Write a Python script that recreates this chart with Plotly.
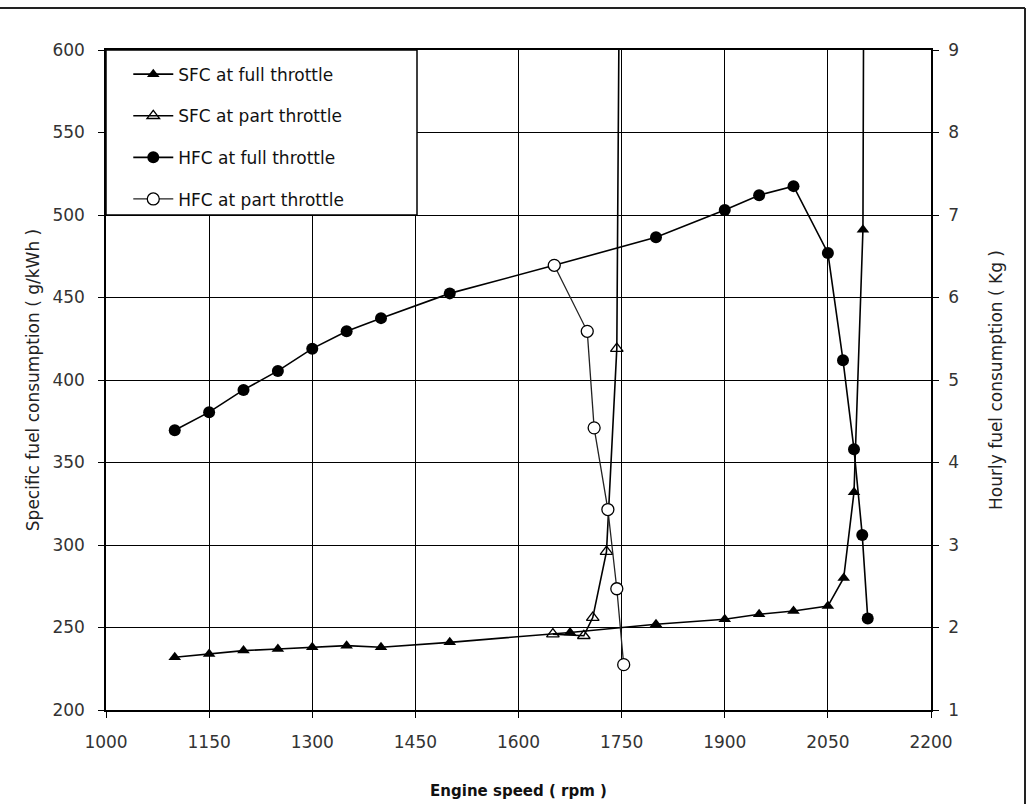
import plotly.graph_objects as go

# ---- data ----
speed_sfc_full = [1100, 1150, 1200, 1250, 1300, 1350, 1400, 1500, 1675, 1800, 1900, 1950, 2000, 2050, 2073, 2088, 2101, 2104]
sfc_full = [232, 234, 236, 237, 238, 239, 238, 241, 247, 252, 255, 258, 260, 263, 280, 332, 491, 900]

speed_sfc_part = [1650, 1695, 1708, 1728, 1743, 1750]
sfc_part = [246, 245, 256, 296, 419, 850]

speed_hfc_full = [1100, 1150, 1200, 1250, 1300, 1350, 1400, 1500, 1652, 1800, 1900, 1950, 2000, 2050, 2072, 2088, 2100, 2108]
hfc_full = [4.39, 4.61, 4.88, 5.11, 5.38, 5.59, 5.75, 6.05, 6.39, 6.73, 7.06, 7.24, 7.35, 6.54, 5.24, 4.16, 3.12, 2.11]

speed_hfc_part = [1652, 1700, 1710, 1730, 1743, 1753]
hfc_part = [6.39, 5.59, 4.42, 3.43, 2.47, 1.55]

x_ticks = [1000, 1150, 1300, 1450, 1600, 1750, 1900, 2050, 2200]

FONT = "DejaVu Sans, Liberation Sans, sans-serif"

fig = go.Figure()
fig.add_trace(go.Scatter(
    x=speed_sfc_full, y=sfc_full, name="SFC at full throttle", mode="lines+markers",
    line=dict(color="black", width=1.6),
    marker=dict(symbol="triangle-up", size=11, color="black"),
    legendgroup="a"))
fig.add_trace(go.Scatter(
    x=speed_sfc_part, y=sfc_part, name="SFC at part throttle", mode="lines+markers",
    line=dict(color="black", width=1.6),
    marker=dict(symbol="triangle-up-open", size=11, color="black", line=dict(width=1.3)),
    legendgroup="b"))
fig.add_trace(go.Scatter(
    x=speed_hfc_full, y=hfc_full, name="HFC at full throttle", mode="lines+markers", yaxis="y2",
    line=dict(color="black", width=1.6),
    marker=dict(symbol="circle", size=12, color="black"),
    legendgroup="c"))
fig.add_trace(go.Scatter(
    x=speed_hfc_part, y=hfc_part, name="HFC at part throttle", mode="lines+markers", yaxis="y2",
    line=dict(color="#222", width=1.3),
    marker=dict(symbol="circle", size=12, color="white", line=dict(color="black", width=1.3)),
    legendgroup="d"))

# legend box (white, bordered) covering the grid behind the legend
shapes = [
    dict(type="rect", xref="paper", yref="paper", x0=0, x1=(417 - 106) / 825, y0=(710 - 215) / 660, y1=1,
         fillcolor="white", line=dict(color="black", width=1.5), layer="above"),
    # outer frame of the scanned figure
    dict(type="line", xref="paper", yref="paper", x0=-0.13, x1=(1025 - 106) / 825,
         y0=1 + 42 / 660, y1=1 + 42 / 660, line=dict(color="#222", width=2)),
    dict(type="line", xref="paper", yref="paper", x0=(1025 - 106) / 825, x1=(1025 - 106) / 825,
         y0=1 + 42 / 660, y1=-0.2, line=dict(color="#222", width=2)),
]

fig.update_layout(
    width=1030, height=804,
    margin=dict(l=106, r=99, t=50, b=94, autoexpand=False),
    paper_bgcolor="white", plot_bgcolor="white",
    font=dict(family=FONT, color="#222", size=16),
    showlegend=True,
    legend=dict(x=0.027, y=0.99, xanchor="left", yanchor="top",
                bgcolor="rgba(0,0,0,0)", borderwidth=0,
                font=dict(family=FONT, size=17, color="#111"),
                tracegroupgap=16.5, itemwidth=40),
    xaxis=dict(range=[1000, 2200], tickvals=x_ticks, ticktext=[str(v) for v in x_ticks],
               showgrid=True, gridcolor="black", gridwidth=1.4, automargin=False,
               showline=True, linecolor="black", linewidth=1.5, mirror=True,
               ticks="outside", ticklen=6, tickcolor="black", ticklabelstandoff=10,
               tickfont=dict(size=17, color="#333"), zeroline=False,
               title=dict(text="<b>Engine speed ( rpm )</b>", font=dict(size=15, color="#111"), standoff=34)),
    yaxis=dict(range=[200, 600], dtick=50, showgrid=True, gridcolor="black", gridwidth=1.4, automargin=False,
               showline=True, linecolor="black", linewidth=1.5,
               ticks="outside", ticklen=6, tickcolor="black", ticklabelstandoff=10,
               tickfont=dict(size=17, color="#333"), zeroline=False,
               title=dict(text="Specific fuel consumption ( g/kWh )", font=dict(size=17, color="#222"), standoff=8)),
    yaxis2=dict(range=[1, 9], dtick=1, overlaying="y", side="right", showgrid=False, automargin=False,
                showline=True, linecolor="black", linewidth=1.5,
                ticks="outside", ticklen=6, tickcolor="black", ticklabelstandoff=6,
                tickfont=dict(size=17, color="#333"), zeroline=False,
                title=dict(text="Hourly fuel consumption ( Kg )", font=dict(size=17, color="#222"), standoff=32)),
    shapes=shapes,
)

fig.write_html("out.html")
